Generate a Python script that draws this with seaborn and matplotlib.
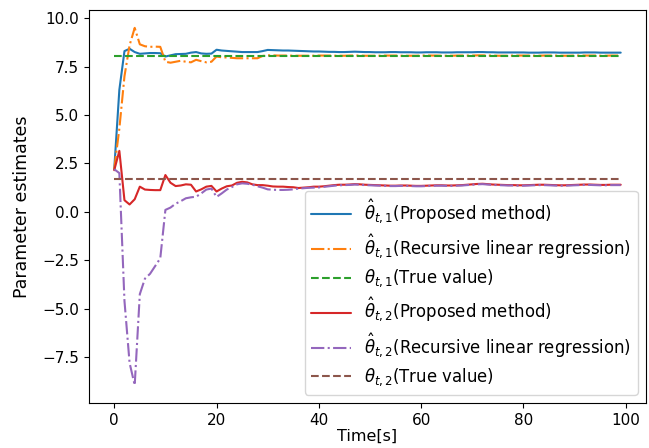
import matplotlib
matplotlib.use("Agg")
import matplotlib.pyplot as plt
import seaborn as sns

# time axis [s]
time = list(range(100))

# theta_1 estimates
theta1_proposed = [
    2.20, 6.30, 8.30, 8.42, 8.25, 8.16, 8.18, 8.20, 8.20, 8.19,
    8.02, 8.08, 8.14, 8.15, 8.16, 8.22, 8.25, 8.18, 8.16, 8.17,
    8.37, 8.33, 8.31, 8.29, 8.27, 8.25, 8.25, 8.25, 8.25, 8.30,
    8.36, 8.35, 8.34, 8.33, 8.33, 8.32, 8.31, 8.30, 8.29, 8.28,
    8.28, 8.27, 8.26, 8.26, 8.25, 8.25, 8.26, 8.27, 8.26, 8.25,
    8.25, 8.24, 8.24, 8.24, 8.25, 8.25, 8.24, 8.24, 8.24, 8.23,
    8.23, 8.24, 8.24, 8.24, 8.23, 8.23, 8.23, 8.24, 8.24, 8.24,
    8.24, 8.25, 8.25, 8.24, 8.24, 8.23, 8.23, 8.23, 8.23, 8.23,
    8.23, 8.22, 8.22, 8.22, 8.23, 8.23, 8.23, 8.22, 8.22, 8.22,
    8.22, 8.22, 8.23, 8.23, 8.23, 8.22, 8.22, 8.22, 8.22, 8.22,
]
theta1_rls = [
    2.20, 4.30, 7.00, 8.60, 9.50, 8.65, 8.55, 8.52, 8.53, 8.52,
    7.75, 7.70, 7.75, 7.80, 7.75, 7.72, 7.85, 7.78, 7.72, 7.75,
    8.02, 7.98, 7.97, 7.95, 7.93, 7.93, 7.93, 7.93, 7.93, 8.05,
    8.08, 8.08, 8.07, 8.07, 8.07, 8.06, 8.06, 8.06, 8.06, 8.06,
    8.07, 8.07, 8.07, 8.06, 8.06, 8.06, 8.07, 8.07, 8.07, 8.06,
    8.06, 8.06, 8.06, 8.07, 8.07, 8.07, 8.06, 8.06, 8.06, 8.06,
    8.07, 8.07, 8.07, 8.07, 8.06, 8.06, 8.06, 8.07, 8.07, 8.07,
    8.07, 8.08, 8.08, 8.07, 8.07, 8.06, 8.06, 8.06, 8.07, 8.07,
    8.07, 8.07, 8.06, 8.06, 8.07, 8.07, 8.07, 8.06, 8.06, 8.06,
    8.07, 8.07, 8.07, 8.07, 8.07, 8.06, 8.06, 8.07, 8.07, 8.07,
]
theta1_true = 8.07

# theta_2 estimates
theta2_proposed = [
    2.15, 3.15, 0.60, 0.38, 0.65, 1.30, 1.15, 1.13, 1.12, 1.12,
    1.90, 1.50, 1.33, 1.36, 1.42, 1.40, 1.05, 1.16, 1.30, 1.34,
    1.05, 1.20, 1.32, 1.36, 1.50, 1.55, 1.52, 1.42, 1.38, 1.38,
    1.35, 1.31, 1.30, 1.30, 1.28, 1.27, 1.23, 1.25, 1.27, 1.30,
    1.30, 1.32, 1.35, 1.38, 1.40, 1.40, 1.41, 1.43, 1.42, 1.40,
    1.39, 1.38, 1.37, 1.36, 1.35, 1.35, 1.36, 1.36, 1.35, 1.34,
    1.34, 1.35, 1.36, 1.37, 1.37, 1.36, 1.36, 1.37, 1.38, 1.40,
    1.42, 1.44, 1.45, 1.43, 1.41, 1.40, 1.39, 1.38, 1.38, 1.37,
    1.37, 1.38, 1.39, 1.40, 1.40, 1.39, 1.38, 1.37, 1.37, 1.38,
    1.39, 1.40, 1.41, 1.41, 1.40, 1.39, 1.39, 1.40, 1.40, 1.40,
]
theta2_rls = [
    2.20, 2.00, -4.60, -7.80, -8.95, -4.25, -3.45, -3.20, -2.80, -2.40,
    0.10, 0.22, 0.42, 0.55, 0.70, 0.75, 0.78, 0.95, 1.15, 1.20,
    0.77, 0.95, 1.15, 1.28, 1.42, 1.47, 1.45, 1.40, 1.32, 1.25,
    1.16, 1.14, 1.13, 1.13, 1.14, 1.16, 1.20, 1.22, 1.24, 1.25,
    1.26, 1.29, 1.32, 1.35, 1.37, 1.38, 1.39, 1.41, 1.40, 1.38,
    1.37, 1.36, 1.35, 1.34, 1.33, 1.33, 1.34, 1.34, 1.33, 1.32,
    1.32, 1.33, 1.34, 1.35, 1.35, 1.34, 1.34, 1.35, 1.36, 1.38,
    1.40, 1.42, 1.43, 1.41, 1.39, 1.38, 1.37, 1.36, 1.36, 1.35,
    1.35, 1.36, 1.37, 1.38, 1.38, 1.37, 1.36, 1.35, 1.35, 1.36,
    1.37, 1.38, 1.39, 1.39, 1.38, 1.37, 1.37, 1.38, 1.38, 1.38,
]
theta2_true = 1.67

sns.set_style("ticks", {
    "axes.edgecolor": "black", "xtick.color": "black", "ytick.color": "black",
    "text.color": "black", "axes.labelcolor": "black",
})
plt.rcParams['font.family'] = ['DejaVu Sans']
plt.rcParams['font.size'] = 11

fig = plt.figure(figsize=(6.49, 4.48), dpi=100)
ax = fig.add_axes([0.137, 0.1004, 0.8584, 0.8773])

pal = sns.color_palette("tab10")
t_ends = [time[0], time[-1]]

sns.lineplot(x=time, y=theta1_proposed, ax=ax, color=pal[0], lw=1.5,
             label=r'$\hat{\theta}_{t,1}$(Proposed method)')
sns.lineplot(x=time, y=theta1_rls, ax=ax, color=pal[1], lw=1.5, linestyle='-.',
             label=r'$\hat{\theta}_{t,1}$(Recursive linear regression)')
sns.lineplot(x=t_ends, y=[theta1_true] * 2, ax=ax, color=pal[2], lw=1.5, linestyle='--',
             label=r'$\theta_{t,1}$(True value)')
sns.lineplot(x=time, y=theta2_proposed, ax=ax, color=pal[3], lw=1.5,
             label=r'$\hat{\theta}_{t,2}$(Proposed method)')
sns.lineplot(x=time, y=theta2_rls, ax=ax, color=pal[4], lw=1.5, linestyle='-.',
             label=r'$\hat{\theta}_{t,2}$(Recursive linear regression)')
sns.lineplot(x=t_ends, y=[theta2_true] * 2, ax=ax, color=pal[5], lw=1.5, linestyle='--',
             label=r'$\theta_{t,2}$(True value)')

ax.set_xlabel('Time[s]', fontsize=11.5, labelpad=1)
ax.set_ylabel('Parameter estimates', fontsize=12.5, labelpad=8)
ax.set_xticks([0, 20, 40, 60, 80, 100])
ax.set_yticks([-7.5, -5.0, -2.5, 0.0, 2.5, 5.0, 7.5, 10.0])
ax.tick_params(labelsize=11)
ax.legend(loc='lower right', fontsize=11.9, labelspacing=0.42, handlelength=2.4)

fig.savefig('out.png', dpi=100)
